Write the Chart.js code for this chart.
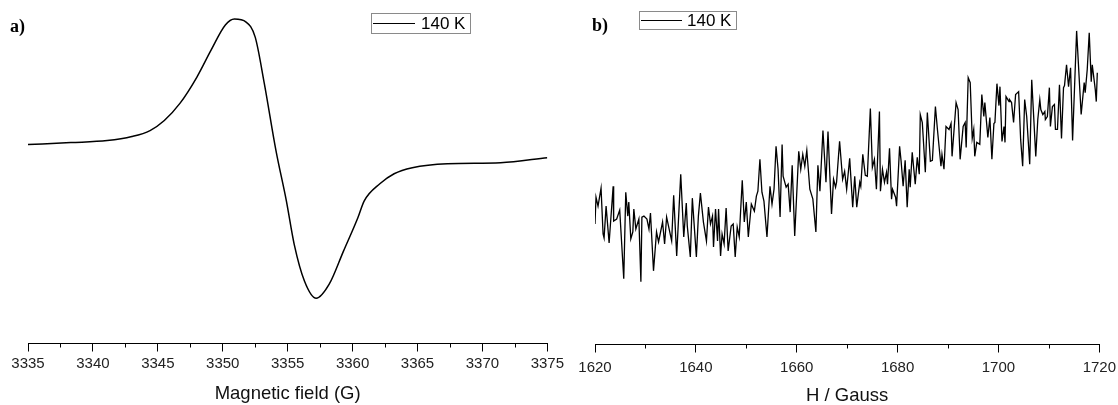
<!DOCTYPE html>
<html>

<head>
  <meta charset="utf-8" />
  <style>
    body { margin: 0; background: #fff; width: 1118px; height: 405px; overflow: hidden; position: relative; font-family: "Liberation Sans", Arial, sans-serif; }
    .panel { position: absolute; top: 0; }
    .tag { position: absolute; font-family: "Liberation Serif", "Times New Roman", serif; font-weight: bold; font-size: 18px; color: #000; }
    .leg { position: absolute; border: 1px solid #8a8a8a; box-sizing: border-box; }
    .leg .ln { position: absolute; height: 0; border-top: 1px solid #000; }
    .leg .tx { position: absolute; font-size: 17px; color: #000; white-space: nowrap; }
  </style>
</head>

<script src="https://cdn.jsdelivr.net/npm/chart.js"></script>

<body>

  <div class="panel" style="left:0px"><canvas id="chartA" width="567" height="405"></canvas></div>
  <div class="panel" style="left:560px"><canvas id="chartB" width="562" height="405"></canvas></div>

  <div class="tag" style="left:10px; top:16px">a)</div>
  <div class="tag" style="left:592px; top:15px">b)</div>

  <div class="leg" style="left:371px; top:13px; width:100px; height:21px">
    <div class="ln" style="left:1px; width:42px; top:9px"></div>
    <div class="tx" style="left:49px; top:0px">140 K</div>
  </div>
  <div class="leg" style="left:639px; top:11px; width:98px; height:19px">
    <div class="ln" style="left:1px; width:41px; top:8px"></div>
    <div class="tx" style="left:47px; top:-1px">140 K</div>
  </div>

  <script>
    // a) EPR derivative signal, 140 K
    var fieldA = [3335.0, 3338.3, 3341.1, 3343.0, 3344.4, 3345.5, 3346.7, 3348.0, 3349.1, 3350.2,
      3350.9, 3351.8, 3352.5, 3353.2, 3354.1, 3354.9, 3355.5, 3356.3, 3357.2, 3358.2,
      3359.3, 3360.4, 3360.9, 3362.1, 3363.2, 3364.6, 3367.3, 3371.4, 3375.0];
    var signalA = [6, 8, 10, 14, 20, 30, 47, 73, 100, 125,
      131, 128, 113, 67, 0, -50, -93, -130, -147, -133,
      -100, -67, -50, -33, -23, -17, -13, -12, -7];
    var ticksA = [3335, 3375, 5];

    // b) noisy low-field scan, 140 K
    var fieldB = [1620.0, 1620.2, 1620.6, 1621.2, 1621.6, 1621.8, 1622.2, 1622.8, 1623.6, 1623.7,
      1624.3, 1624.9, 1625.7, 1626.1, 1626.5, 1626.7, 1627.1, 1627.5, 1627.7, 1628.1,
      1628.7, 1629.1, 1629.3, 1629.7, 1630.3, 1630.7, 1631.0, 1631.6, 1632.2, 1632.6,
      1633.4, 1633.8, 1634.2, 1635.2, 1635.6, 1636.2, 1637.0, 1637.6, 1638.1, 1638.3,
      1638.9, 1639.3, 1640.1, 1640.5, 1640.9, 1641.5, 1642.1, 1642.5, 1642.9, 1643.3,
      1643.5, 1643.9, 1644.3, 1644.5, 1644.9, 1645.2, 1645.6, 1646.0, 1646.4, 1647.0,
      1647.4, 1647.8, 1648.2, 1648.6, 1649.2, 1649.6, 1650.0, 1650.4, 1651.0, 1651.6,
      1652.0, 1652.3, 1652.7, 1653.1, 1653.5, 1654.1, 1654.7, 1655.1, 1655.5, 1655.9,
      1656.3, 1656.7, 1657.1, 1657.3, 1657.9, 1658.3, 1658.7, 1659.1, 1659.6, 1660.4,
      1660.8, 1661.2, 1661.6, 1662.0, 1662.6, 1663.2, 1663.8, 1664.2, 1664.6, 1665.2,
      1665.8, 1666.2, 1666.9, 1667.3, 1667.7, 1667.9, 1668.5, 1669.1, 1669.5, 1669.9,
      1670.5, 1671.1, 1671.5, 1671.9, 1672.5, 1672.7, 1673.1, 1673.6, 1674.0, 1674.6,
      1675.0, 1675.4, 1675.8, 1676.4, 1676.6, 1677.0, 1677.4, 1677.8, 1678.0, 1678.4,
      1678.8, 1679.0, 1679.6, 1679.8, 1680.4, 1680.7, 1681.1, 1681.5, 1681.9, 1682.3,
      1682.5, 1682.9, 1683.5, 1683.9, 1684.3, 1684.5, 1684.9, 1685.5, 1685.9, 1686.5,
      1686.9, 1687.5, 1687.9, 1688.6, 1688.8, 1689.2, 1689.6, 1690.2, 1690.6, 1690.8,
      1691.6, 1692.0, 1692.4, 1693.0, 1693.4, 1693.6, 1694.0, 1694.4, 1694.8, 1695.1,
      1695.3, 1695.7, 1696.3, 1696.7, 1697.1, 1697.3, 1697.9, 1698.3, 1698.7, 1699.1,
      1699.3, 1699.7, 1700.1, 1700.3, 1700.7, 1701.1, 1701.3, 1701.5, 1702.1, 1702.2,
      1702.6, 1703.0, 1703.4, 1704.0, 1704.4, 1704.8, 1705.2, 1705.6, 1706.2, 1706.6,
      1707.4, 1707.8, 1708.2, 1708.4, 1708.8, 1709.2, 1709.3, 1709.7, 1710.1, 1710.3,
      1710.7, 1711.1, 1711.3, 1711.7, 1712.1, 1712.5, 1712.9, 1713.1, 1713.5, 1713.9,
      1714.3, 1714.7, 1715.5, 1716.4, 1717.0, 1717.2, 1717.6, 1718.0, 1718.4, 1718.6,
      1719.2, 1719.4, 1719.6];
    var signalB = [121, 148, 139, 157, 111, 107, 139, 102, 159, 124,
      126, 135, 66, 153, 129, 143, 106, 113, 136, 116,
      126, 63, 128, 129, 126, 116, 132, 74, 113, 103,
      123, 101, 128, 104, 150, 89, 171, 108, 142, 119,
      88, 147, 88, 129, 152, 123, 104, 138, 121, 129,
      98, 136, 104, 136, 89, 111, 101, 137, 94, 119,
      121, 88, 118, 108, 165, 123, 143, 108, 141, 134,
      149, 154, 186, 153, 144, 108, 159, 141, 156, 199,
      176, 128, 201, 169, 158, 161, 133, 180, 109, 194,
      176, 191, 179, 195, 156, 146, 113, 180, 154, 215,
      163, 214, 131, 166, 158, 163, 204, 166, 174, 156,
      187, 138, 169, 138, 163, 159, 191, 170, 169, 237,
      178, 186, 156, 234, 154, 176, 163, 173, 161, 197,
      146, 156, 148, 139, 199, 184, 159, 185, 138, 176,
      158, 193, 161, 188, 171, 231, 223, 173, 233, 184,
      185, 239, 216, 179, 191, 176, 219, 216, 222, 189,
      243, 236, 186, 219, 223, 198, 268, 263, 207, 216,
      189, 203, 201, 251, 229, 243, 208, 228, 186, 222,
      223, 262, 240, 259, 204, 219, 203, 249, 244, 246,
      243, 223, 251, 254, 206, 179, 246, 229, 181, 266,
      189, 226, 246, 236, 231, 234, 226, 229, 258, 219,
      239, 241, 216, 216, 261, 207, 258, 260, 281, 259,
      278, 205, 315, 231, 263, 253, 276, 313, 264, 281,
      256, 244, 273];
    var ticksB = [1620, 1720, 20];

    // minor tick marks halfway between the labelled ones
    var minorTicks = {
      id: 'minorTicks',
      afterDraw: function (chart, args, opts) {
        var sc = chart.scales.x;
        var ctx = chart.ctx;
        var y0 = chart.chartArea.bottom;
        ctx.save();
        ctx.strokeStyle = '#000';
        ctx.lineWidth = 1;
        ctx.beginPath();
        for (var v = sc.min + opts.step / 2; v < sc.max; v += opts.step) {
          var px = Math.round(sc.getPixelForValue(v)) + 0.5;
          ctx.moveTo(px, y0);
          ctx.lineTo(px, y0 + 4);
        }
        ctx.stroke();
        ctx.restore();
      }
    };

    function makeChart(id, xs, ys, ticks, yMin, yMax, title, pad, tickPad, titlePad, smooth, lw) {
      var pts = xs.map(function (x, i) { return { x: x, y: ys[i] }; });
      return new Chart(document.getElementById(id), {
        type: 'line',
        data: {
          datasets: [{
            label: '140 K',
            data: pts,
            borderColor: '#000',
            borderWidth: lw,
            pointRadius: 0,
            fill: false,
            tension: smooth ? 0.4 : 0,
            cubicInterpolationMode: smooth ? 'monotone' : 'default'
          }]
        },
        options: {
          responsive: false,
          animation: false,
          devicePixelRatio: 1,
          layout: { padding: pad },
          plugins: {
            legend: { display: false },
            tooltip: { enabled: false },
            minorTicks: { step: ticks[2] }
          },
          scales: {
            x: {
              type: 'linear',
              min: ticks[0],
              max: ticks[1],
              ticks: {
                stepSize: ticks[2],
                padding: tickPad,
                color: '#222',
                font: { family: '"Liberation Sans", Arial, sans-serif', size: 15 },
                maxRotation: 0,
                callback: function (v) { return String(v); }
              },
              grid: { drawOnChartArea: false, tickLength: 8, color: '#000' },
              border: { color: '#000', width: 1 },
              title: {
                display: true,
                text: title,
                color: '#111',
                padding: { top: titlePad, bottom: 0 },
                font: { family: '"Liberation Sans", Arial, sans-serif', size: 18.5, lineHeight: 1 }
              }
            },
            y: { display: false, min: yMin, max: yMax }
          }
        },
        plugins: [minorTicks]
      });
    }

    makeChart('chartA', fieldA, signalA, ticksA, -192, 140, 'Magnetic field (G)',
      { left: 28, right: 17, top: 10, bottom: 2 }, 3, 9, true, 1.5);
    makeChart('chartB', fieldB, signalB, ticksB, 0, 336, 'H / Gauss',
      { left: 35, right: 17, top: 10, bottom: 0 }, 6, 4, false, 1.3);
  </script>

</body>

</html>
